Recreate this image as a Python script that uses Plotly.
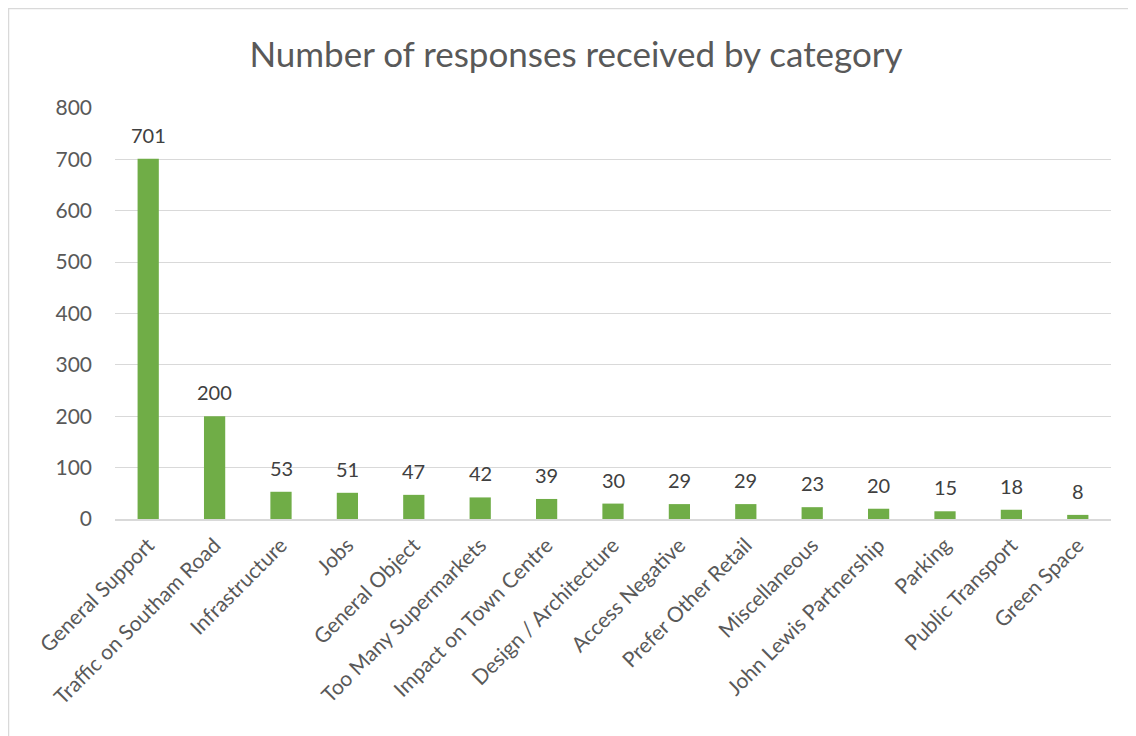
import plotly.graph_objects as go

categories = ["General Support", "Traffic on Southam Road", "Infrastructure", "Jobs",
              "General Object", "Too Many Supermarkets", "Impact on Town Centre",
              "Design / Architecture", "Access Negative", "Prefer Other Retail",
              "Miscellaneous", "John Lewis Partnership", "Parking", "Public Transport",
              "Green Space"]
responses = [701, 200, 53, 51, 47, 42, 39, 30, 29, 29, 23, 20, 15, 18, 8]
y_ticks = [0, 100, 200, 300, 400, 500, 600, 700, 800]

# page body has an 8px margin; positions below are in figure coordinates
W, H = 1136, 736
L, T = 107, 100
pw, ph = 996, 411
R, B = W - L - pw, H - T - ph

def px(x):
    return (x - L) / pw

def py(y):
    return (H - B - y) / ph

FONT = "Lato"

fig = go.Figure(go.Bar(
    x=categories, y=responses,
    marker=dict(color="#70AD47", line=dict(width=0)),
))

for c, v in zip(categories, responses):
    fig.add_annotation(x=c, y=v, text=str(v), showarrow=False, yanchor="bottom",
                       yshift=10, font=dict(family=FONT, size=20, color="#404040"))

fig.update_layout(
    width=W, height=H,
    margin=dict(l=L, r=R, t=T, b=B, autoexpand=False),
    paper_bgcolor="white", plot_bgcolor="white",
    bargap=0.68,
    showlegend=False,
    title=dict(text="Number of responses received by category", x=0.5, xanchor="center",
               xref="container",
               y=1 - 47 / H, yanchor="middle",
               font=dict(family=FONT, size=35, color="#595959")),
)
fig.update_yaxes(range=[0, 800], tickvals=y_ticks, showgrid=True, gridcolor="#D9D9D9",
                 gridwidth=1, zeroline=False, showline=False, automargin=False,
                 tickfont=dict(family=FONT, size=21, color="#595959"),
                 ticklabelstandoff=22)
fig.update_xaxes(tickangle=-45, showline=True, linecolor="#D9D9D9", linewidth=1.5,
                 automargin=False,
                 tickfont=dict(family=FONT, size=21, color="#595959"),
                 ticklabelstandoff=4)

fig.add_shape(type="rect", xref="paper", yref="paper",
              x0=px(0.5), x1=px(1300), y0=py(0.5), y1=py(900),
              line=dict(color="#D9D9D9", width=1.5), fillcolor="rgba(0,0,0,0)", layer="below")

fig.write_html("out.html")
